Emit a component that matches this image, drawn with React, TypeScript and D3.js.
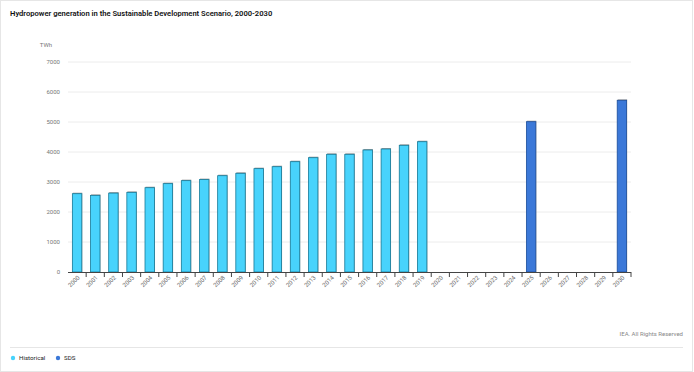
import React from "react";
import * as d3 from "d3";

const years = d3.range(2000, 2031).map(String);
const historicalYears = ["2000","2001","2002","2003","2004","2005","2006","2007","2008","2009","2010","2011","2012","2013","2014","2015","2016","2017","2018","2019"];
const historicalValues = [2610, 2555, 2630, 2655, 2810, 2945, 3045, 3080, 3210, 3290, 3445, 3510, 3677, 3810, 3923, 3923, 4067, 4100, 4223, 4343];
const sdsYears = ["2025", "2030"];
const sdsValues = [5010, 5723];
const yTicks = [0, 1000, 2000, 3000, 4000, 5000, 6000, 7000];

const W = 694, H = 372;
const M = { left: 68, right: 631, top: 62, bottom: 272 };
const HIST = "#48d3fc";
const SDS = "#3b78d8";
const FONT = "Roboto, 'Noto Sans', sans-serif";

export default function App() {
  const x = d3.scaleBand().domain(years).range([M.left, M.right]).paddingInner(0.48).paddingOuter(0.24);
  const xb = d3.scaleBand().domain(years).range([M.left, M.right]);
  const y = d3.scaleLinear().domain([0, 7000]).range([M.bottom, M.top]);
  const bars = [
    ...historicalYears.map((yr, i) => ({ yr, v: historicalValues[i], c: HIST, s: "#177a98" })),
    ...sdsYears.map((yr, i) => ({ yr, v: sdsValues[i], c: SDS, s: "#1d4f9c" })),
  ];
  const bw = x.bandwidth();
  return (
    <svg width={W} height={H} style={{ position: "absolute", left: 0, top: 0, fontFamily: FONT }}>
      <rect x={0.5} y={0.5} width={W - 2} height={H - 1} fill="#fff" stroke="#e6e6e6" />
      <text x={10} y={16} fontSize={7.6} fontWeight={600} fill="#111">
        Hydropower generation in the Sustainable Development Scenario, 2000-2030
      </text>
      <text x={46} y={47} fontSize={6} fill="#777" textAnchor="middle">TWh</text>
      {yTicks.map((t) => (
        <g key={t}>
          {t > 0 && <line x1={M.left} x2={M.right} y1={y(t)} y2={y(t)} stroke="#ececec" strokeWidth={1} />}
          <text x={60} y={y(t) + 2} fontSize={6} fill="#777" textAnchor="end">{t}</text>
        </g>
      ))}
      {bars.map((b) => {
        const bx = x(b.yr)!;
        const top = y(b.v);
        return (
          <g key={b.yr}>
            <rect x={bx + 0.5} y={top - 1} width={bw} height={M.bottom - top + 1} fill="#a0a0a0" />
            <rect x={bx} y={top} width={bw} height={M.bottom - top} fill={b.c} stroke={b.s} strokeWidth={0.8} />
          </g>
        );
      })}
      <line x1={M.left} x2={M.right} y1={M.bottom + 0.5} y2={M.bottom + 0.5} stroke="#444" strokeWidth={1} />
      {years.map((yr, i) => (
        <line key={"t" + yr} x1={xb(yr)! + xb.bandwidth()} x2={xb(yr)! + xb.bandwidth()} y1={M.bottom} y2={M.bottom + 5} stroke="#444" strokeWidth={1} />
      ))}
      {years.map((yr) => {
        const cx = xb(yr)! + xb.bandwidth() / 2 + 3;
        const cy = M.bottom + 6;
        return (
          <text key={"l" + yr} x={cx} y={cy} fontSize={6} fill="#666" textAnchor="end" transform={`rotate(-45 ${cx} ${cy})`}>
            {yr}
          </text>
        );
      })}
      <text x={683} y={336} fontSize={6} fill="#888" textAnchor="end">IEA. All Rights Reserved</text>
      <line x1={10} x2={683} y1={347.5} y2={347.5} stroke="#e6e6e6" />
      <circle cx={13} cy={358} r={2.2} fill={HIST} />
      <text x={19} y={360.2} fontSize={6.2} fill="#222">Historical</text>
      <circle cx={58} cy={358} r={2.2} fill={SDS} />
      <text x={64} y={360.2} fontSize={6.2} fill="#222">SDS</text>
    </svg>
  );
}
